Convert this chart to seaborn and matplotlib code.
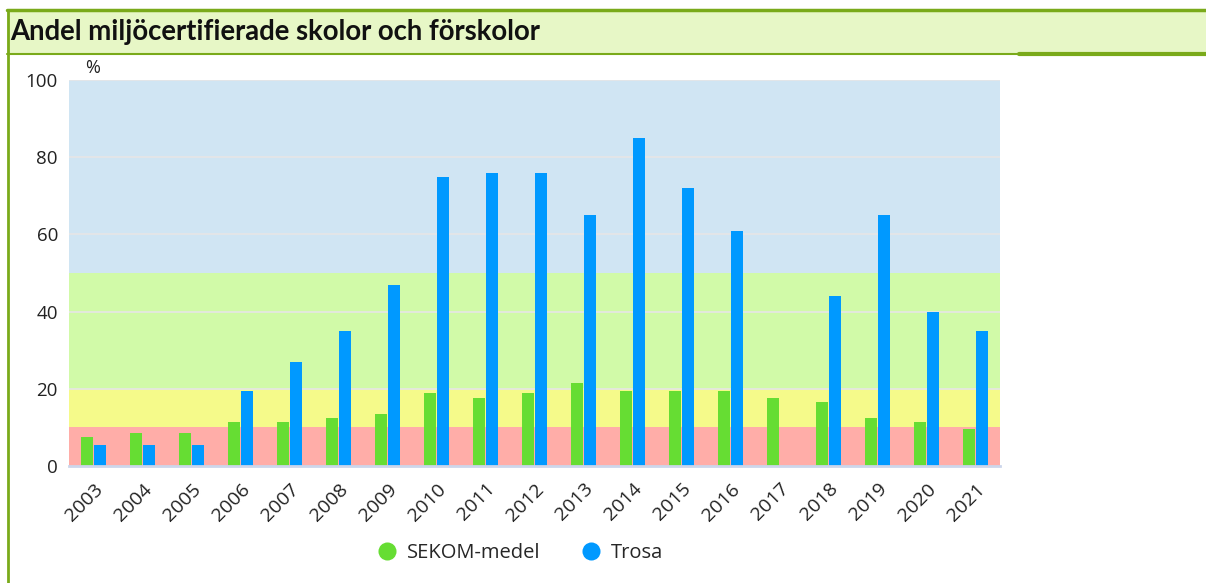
import numpy as np
import pandas as pd
import matplotlib
matplotlib.use("Agg")
import matplotlib.pyplot as plt
import seaborn as sns
from matplotlib.lines import Line2D

years = ["2003", "2004", "2005", "2006", "2007", "2008", "2009", "2010", "2011", "2012",
         "2013", "2014", "2015", "2016", "2017", "2018", "2019", "2020", "2021"]
sekom = [7.5, 8.5, 8.5, 11.5, 11.5, 12.5, 13.5, 19, 17.5, 19,
         21.5, 19.5, 19.5, 19.5, 17.5, 16.5, 12.5, 11.5, 9.5]
trosa = [5.5, 5.5, 5.5, 19.5, 27, 35, 47, 75, 76, 76,
         65, 85, 72, 61, np.nan, 44, 65, 40, 35]
series_names = ["SEKOM-medel", "Trosa"]
yticks = [0, 20, 40, 60, 80, 100]
title = "Andel miljöcertifierade skolor och förskolor"

df = pd.DataFrame({
    "year": years * 2,
    "value": sekom + trosa,
    "series": [series_names[0]] * len(years) + [series_names[1]] * len(years),
})

sns.set_theme(style="white")
plt.rcParams["font.family"] = ["Open Sans", "DejaVu Sans"]

W, H = 1206, 583
fig = plt.figure(figsize=(W / 100, H / 100), dpi=100)

# header box
hdr = fig.add_axes([7 / W, 1 - 54 / H, (W - 7) / W, 44 / H])
hdr.set_xlim(0, 1); hdr.set_ylim(0, 1)
hdr.axis("off")
hdr.add_patch(plt.Rectangle((0, 0), 1, 1, facecolor="#E7F7C6", edgecolor="none"))
hdr.plot([0, 1], [1, 1], color="#7AAA1A", lw=2.5, clip_on=False)
split = (1019 - 7) / (W - 7)
hdr.plot([0, split], [0, 0], color="#7AAA1A", lw=1.5, clip_on=False)
hdr.plot([split, 1], [0, 0], color="#7AAA1A", lw=3, clip_on=False)
hdr.text(3 / (W - 7), 0.5, title, fontsize=19.8, fontweight="bold",
         family=["Lato", "DejaVu Sans"], va="center", ha="left", color="#111111")

# left vertical line
fig.add_artist(plt.Line2D([8 / W, 8 / W], [0, 1 - 10 / H], color="#7AAA1A", lw=2,
                          transform=fig.transFigure))

left, right, top, bottom = 69, 1000, 80, 466
ax = fig.add_axes([left / W, 1 - bottom / H, (right - left) / W, (bottom - top) / H])

bands = [(0, 10, "#FFADA8"), (10, 20, "#F5FA8A"), (20, 50, "#D1FAA8"), (50, 100, "#D0E5F3")]
for lo, hi, c in bands:
    ax.axhspan(lo, hi, color=c, zorder=0, lw=0)
for t in yticks[1:]:
    ax.axhline(t, color="#E6E6E6", lw=1.2, zorder=0.5)

sns.barplot(data=df, x="year", y="value", hue="series",
            palette=["#66DD33", "#0099FF"], width=0.55, gap=0.1,
            saturation=1, ax=ax, zorder=2, legend=False, errorbar=None,
            linewidth=0, edgecolor="none")

ax.set_ylim(0, 100)
ax.set_xlim(-0.5, len(years) - 0.5)
ax.set_yticks(yticks)
ax.set_yticklabels([str(t) for t in yticks], fontsize=13.5, color="#222222")
ax.set_xticks(range(len(years)))
ax.set_xticklabels(years, rotation=45, ha="right", rotation_mode="anchor",
                   fontsize=14, color="#222222")
ax.tick_params(axis="y", length=0, pad=8)
ax.tick_params(axis="x", length=0, pad=10)
ax.set_xlabel(""); ax.set_ylabel("")
for s in ["top", "right", "left"]:
    ax.spines[s].set_visible(False)
ax.spines["bottom"].set_color("#CCD6EB")
ax.spines["bottom"].set_linewidth(2)

fig.text(93 / W, 1 - 68 / H, "%", fontsize=13, ha="center", va="center", color="#222222")

# legend
handles = [Line2D([], [], marker="o", ls="none", markersize=13, markerfacecolor=c,
                  markeredgecolor="none") for c in ["#66DD33", "#0099FF"]]
fig.legend(handles, series_names, loc="center", bbox_to_anchor=(520 / W, 1 - 553 / H),
           ncol=2, frameon=False, fontsize=14.5, handletextpad=0.5, columnspacing=2.0,
           handlelength=1.0)

fig.savefig("out.png", dpi=100)
